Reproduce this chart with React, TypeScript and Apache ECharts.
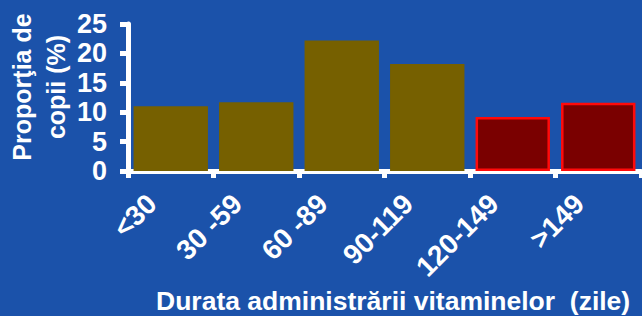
import React, { useEffect, useRef } from "react";
import * as echarts from "echarts";

const categories = ["<30", "30 -59", "60 -89", "90-119", "120-149", ">149"];
const values = [11.0, 11.7, 22.2, 18.2, 9.2, 11.6];
const highlighted = [false, false, false, false, true, true];
const yTicks = { min: 0, max: 25, interval: 5 };
const yAxisTitle = "Proporţia de\ncopii (%)";
const xAxisTitle = "Durata administrării vitaminelor  (zile)";

const FONT = '"Liberation Sans", Arial, sans-serif';

export default function App() {
  const ref = useRef<HTMLDivElement>(null);
  useEffect(() => {
    if (!ref.current) return;
    const chart = echarts.init(ref.current, undefined, { renderer: "svg" });
    const data = values.map((v, i) =>
      highlighted[i]
        ? { value: v, itemStyle: { color: "#7a0000", borderColor: "#ff0a0a", borderWidth: 2.5 } }
        : { value: v, itemStyle: { color: "#766000" } }
    );
    chart.setOption({
      animation: false,
      backgroundColor: "#1b52aa",
      textStyle: { fontFamily: FONT },
      grid: [
        { left: 128, right: 1, top: 24, height: 147 },
        { left: 109, right: 20, top: 24, height: 147 },
      ],
      xAxis: [
        {
          type: "category",
          gridIndex: 0,
          data: categories,
          axisLine: { lineStyle: { color: "#ffffff", width: 5 } },
          axisTick: { show: true, length: 7, lineStyle: { color: "#ffffff", width: 5 } },
          axisLabel: { show: false },
        },
        {
          type: "category",
          gridIndex: 1,
          data: categories,
          axisLine: { show: false },
          axisTick: { show: false },
          axisLabel: {
            rotate: 45,
            margin: 28,
            color: "#ffffff",
            fontSize: 28,
            fontWeight: "bold",
            fontFamily: FONT,
            interval: 0,
          },
        },
      ],
      yAxis: [
        {
          type: "value",
          gridIndex: 0,
          min: yTicks.min,
          max: yTicks.max,
          interval: yTicks.interval,
          splitLine: { show: false },
          axisLine: { show: true, lineStyle: { color: "#ffffff", width: 5 } },
          axisTick: { show: true, length: 8, lineStyle: { color: "#ffffff", width: 5 } },
          axisLabel: {
            margin: 21,
            color: "#ffffff",
            fontSize: 27,
            fontWeight: "bold",
            fontFamily: FONT,
          },
        },
        {
          type: "value",
          gridIndex: 1,
          show: false,
          min: yTicks.min,
          max: yTicks.max,
        },
      ],
      series: [
        {
          type: "bar",
          xAxisIndex: 0,
          yAxisIndex: 0,
          data,
          barCategoryGap: "13%",
        },
      ],
      graphic: [
        {
          type: "text",
          x: 39,
          y: 87,
          rotation: Math.PI / 2,
          style: {
            text: yAxisTitle,
            fill: "#ffffff",
            font: `bold 25px ${FONT}`,
            align: "center",
            verticalAlign: "middle",
            lineHeight: 34,
          },
        },
        {
          type: "text",
          x: 156,
          y: 301,
          style: {
            text: xAxisTitle,
            fill: "#ffffff",
            font: `bold 26.5px ${FONT}`,
            align: "left",
            verticalAlign: "middle",
          },
        },
      ],
    });
    return () => chart.dispose();
  }, []);
  return (
    <div
      ref={ref}
      style={{ position: "fixed", left: 0, top: 0, width: 642, height: 316 }}
    />
  );
}
